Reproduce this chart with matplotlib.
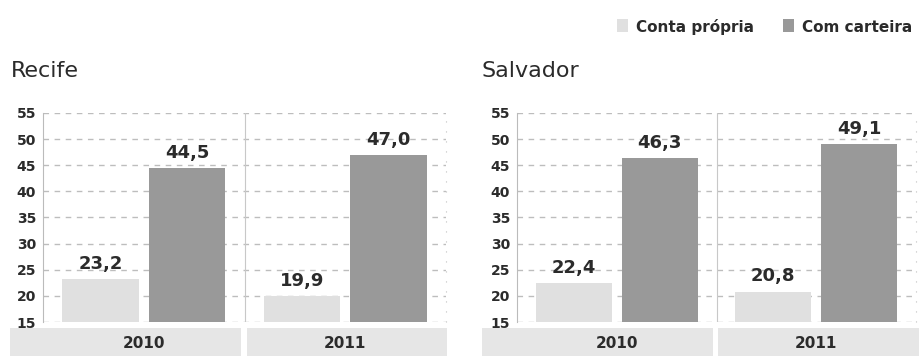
import matplotlib
matplotlib.use("Agg")
import matplotlib.pyplot as plt
from matplotlib.patches import Rectangle
from matplotlib.transforms import blended_transform_factory

cities = ["Recife", "Salvador"]
years = ["2010", "2011"]
series = ["Conta própria", "Com carteira"]
recife_conta = [23.2, 19.9]
recife_carteira = [44.5, 47.0]
salvador_conta = [22.4, 20.8]
salvador_carteira = [46.3, 49.1]
yticks = [15, 20, 25, 30, 35, 40, 45, 50, 55]

values = {"Recife": (recife_conta, recife_carteira),
          "Salvador": (salvador_conta, salvador_carteira)}

W, H = 920, 356
fig = plt.figure(figsize=(W / 100, H / 100), dpi=100)
fig.patch.set_facecolor("white")

LIGHT = "#e0e0e0"
DARK = "#999999"
BAND = "#e6e6e6"
TXT = "#2b2b2b"
GRID = "#bdbdbd"

def fx(px):
    return px / W

def fy(py):
    return 1 - py / H

panels = [
    dict(left=43, right=446, tx=11, bands=[(10, 241), (247, 447)]),
    dict(left=517, right=916, tx=482, bands=[(482, 713), (718, 920)]),
]
top_px, bot_px = 113, 322

for city, p in zip(cities, panels):
    ax = fig.add_axes([fx(p["left"]), fy(bot_px), fx(p["right"] - p["left"]),
                       (bot_px - top_px) / H])
    conta, cart = values[city]
    xs = range(len(years))
    w = 0.38
    off = 0.215
    b1 = ax.bar([x - off for x in xs], [v - 15 for v in conta], bottom=15,
                width=w, color=LIGHT, zorder=3)
    b2 = ax.bar([x + off for x in xs], [v - 15 for v in cart], bottom=15,
                width=w, color=DARK, zorder=3)
    for bars, vals in ((b1, conta), (b2, cart)):
        for r, v in zip(bars, vals):
            ax.annotate(f"{v:.1f}".replace(".", ","),
                        (r.get_x() + r.get_width() / 2, v),
                        xytext=(0, 4.5), textcoords="offset points",
                        ha="center", va="bottom", fontsize=13,
                        fontweight="bold", color=TXT, zorder=4)
    ax.set_xlim(-0.5, len(years) - 0.5)
    ax.set_ylim(15, 55)
    ax.set_yticks(yticks)
    ax.set_yticklabels([str(t) for t in yticks], fontsize=10,
                       fontweight="bold", color=TXT)
    ax.tick_params(axis="y", length=0, pad=5)
    ax.set_xticks([])
    for y in yticks:
        ax.axhline(y, color=GRID, lw=1, ls=(0, (4, 4)), zorder=1)
    for s in ["top", "bottom", "right"]:
        ax.spines[s].set_visible(False)
    ax.spines["left"].set_color("#bbbbbb")
    ax.spines["left"].set_linewidth(0.8)
    ax.axvline(0.5, color="#c8c8c8", lw=0.8, zorder=2)
    ax.axvline(len(years) - 0.5, color="#c0c0c0", lw=0.8,
               ls=(0, (1, 8)), zorder=2, clip_on=False)
    ax.set_facecolor("none")

    for (x0, x1) in p["bands"]:
        fig.add_artist(Rectangle((fx(x0), 0), fx(x1 - x0), fy(328),
                                 transform=fig.transFigure,
                                 facecolor=BAND, edgecolor="none", zorder=0))
    tr = blended_transform_factory(ax.transData, fig.transFigure)
    for i, yr in enumerate(years):
        ax.text(i, fy(343), yr, transform=tr, ha="center", va="center",
                fontsize=11, fontweight="bold", color=TXT, clip_on=False)

    fig.text(fx(p["tx"]), fy(77), city, fontsize=16, color=TXT,
             ha="left", va="baseline")

leg = [(617, series[0], LIGHT), (783, series[1], DARK)]
for x0, lab, col in leg:
    fig.add_artist(Rectangle((fx(x0), fy(32)), fx(11), 13 / H,
                             transform=fig.transFigure, facecolor=col,
                             edgecolor="none"))
    fig.text(fx(x0 + 19), fy(32), lab, fontsize=11, fontweight="bold",
             color=TXT, ha="left", va="baseline")

fig.savefig("out.png", dpi=100)
